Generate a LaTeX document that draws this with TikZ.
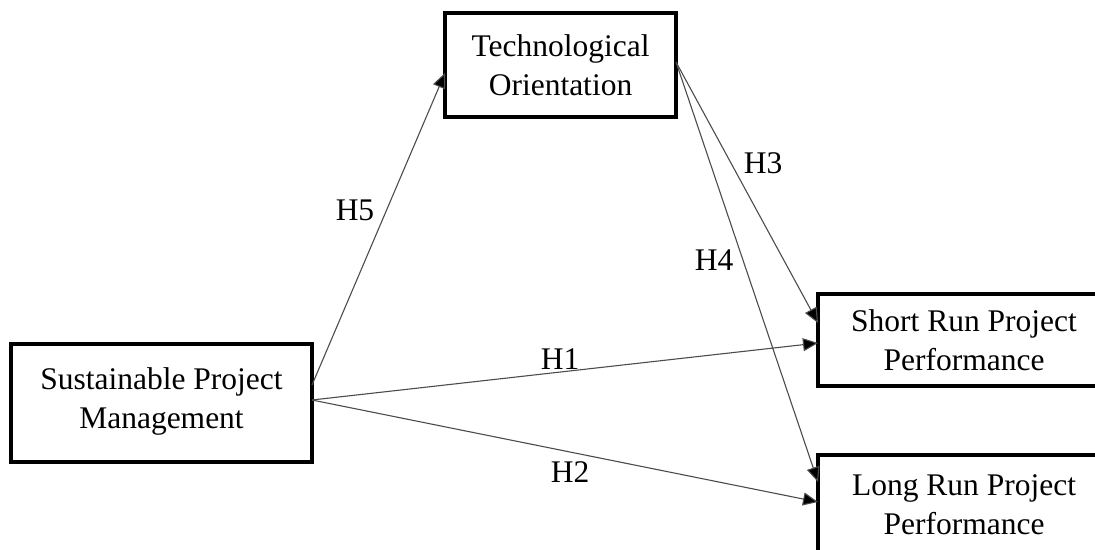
\documentclass[tikz,border=0pt]{standalone}
\usepackage{fontspec}
\setmainfont{Liberation Serif}
\usetikzlibrary{arrows.meta}
\begin{document}
\begin{tikzpicture}[x=1pt,y=-1pt,
  box/.style={draw=black,line width=4pt,rectangle,align=center,inner sep=0pt,outer sep=0pt,
    font=\fontsize{31.5pt}{39pt}\selectfont},
  conn/.style={draw=black!70,line width=1.1pt,-{Triangle[length=15pt,width=13pt,fill=black]}},
  hlab/.style={font=\fontsize{31.5pt}{38pt}\selectfont,inner sep=0pt}]
\useasboundingbox (0,0) rectangle (1095,549);
\clip (0,0) rectangle (1095,549);
\node[box,minimum width=231pt,minimum height=104pt] (to) at (560.5,65) {Technological\\Orientation};
\node[box,minimum width=301pt,minimum height=118pt] (spm) at (161.5,403) {Sustainable Project\\Management\\[-29pt]\mbox{}};
\node[box,minimum width=292pt,minimum height=92pt] (srpp) at (964,340) {Short Run Project\\Performance};
\node[box,minimum width=292pt,minimum height=100pt] (lrpp) at (964,505) {Long Run Project\\Performance};
\draw[conn] ([yshift=18pt]spm.east) -- ([yshift=-8pt]to.west);
\draw[conn] ([yshift=3pt]spm.east) -- ([yshift=-3pt]srpp.west);
\draw[conn] ([yshift=3pt]spm.east) -- ([yshift=3pt]lrpp.west);
\draw[conn] ([yshift=3pt]to.east) -- ([yshift=17pt]srpp.west);
\draw[conn] ([yshift=3pt]to.east) -- ([yshift=23pt]lrpp.west);
\node[hlab] (h5) at (355,210) {H5};
\node[hlab] (h3) at (763,163) {H3};
\node[hlab] (h4) at (714,260) {H4};
\node[hlab] (h1) at (560,359) {H1};
\node[hlab] (h2) at (570,472) {H2};
\end{tikzpicture}
\end{document}
